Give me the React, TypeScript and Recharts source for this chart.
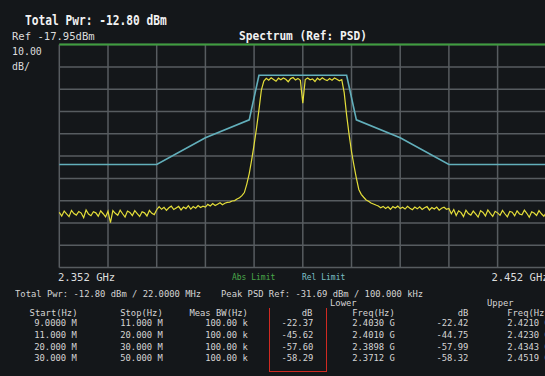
import React from 'react';
import { LineChart, Line, XAxis, YAxis, ReferenceLine } from 'recharts';

// Sweep: 2.352 GHz .. 2.452 GHz, 201 points (0.5 MHz step)
const startGHz = 2.352;
const stepGHz = 0.0005;

// Measured PSD trace, dBm per 100 kHz
const traceDbm = [
  // -50 .. -30.5 MHz
  -93.2, -94.8, -92.6, -93.9, -95.1, -92.3, -93.7, -94.4, -92.8, -93.5,
  -95.6, -92.1, -93.9, -94.7, -92.9, -93.4, -94.9, -92.5, -93.8, -95.2,
  -92.7, -97.8, -92.4, -93.6, -94.5, -92.2, -93.8, -95.3, -92.6, -93.2,
  -94.6, -92.4, -93.7, -95.0, -92.9, -93.4, -94.8, -92.3, -93.6, -94.2,
  // -30 .. -20.5 MHz
  -92.0, -90.6, -91.8, -90.9, -92.3, -91.1, -90.4, -91.9, -91.2, -90.5,
  -92.1, -90.8, -91.5, -90.2, -91.7, -90.6, -91.3, -90.1, -91.0, -90.4,
  // -20 .. -15.5 MHz
  -90.8, -89.6, -90.3, -89.2, -90.1, -89.5, -88.9, -89.8, -89.1, -88.7,
  // -15 .. -8.5 MHz (lower skirt)
  -88.6, -88.1, -87.9, -87.2, -86.6, -85.7, -84.3, -80.5, -75.8, -69.6,
  -62.8, -55.4, -47.1, -38.2,
  // -8 .. +8 MHz (in-channel)
  -34.3, -33.1, -33.9, -32.8, -33.6, -34.4, -33.0, -33.7, -32.9, -33.5,
  -34.6, -33.2, -32.7, -33.8, -33.1, -34.0, -44.2, -33.6, -32.9, -33.7,
  -33.3, -34.5, -33.0, -33.8, -32.8, -33.6, -34.1, -33.2, -33.9, -32.9,
  -33.5, -34.2, -33.7,
  // +8.5 .. +15 MHz (upper skirt)
  -39.5, -49.6, -58.2, -65.9, -72.1, -77.8, -82.9, -85.1, -86.4, -87.6,
  -88.2, -89.0, -89.4, -89.9,
  // +15.5 .. +30 MHz
  -90.3, -91.1, -90.5, -91.4, -90.7, -91.8, -90.6, -91.2, -90.4, -91.5,
  -90.9, -91.7, -90.5, -91.3, -92.0, -90.8, -91.6, -90.7, -91.9, -91.1,
  -90.6, -92.1, -91.0, -91.7, -90.8, -92.2, -91.3, -90.9, -91.8, -91.4,
  // +30.5 .. +50 MHz
  -93.8, -91.9, -94.6, -92.5, -93.3, -95.1, -92.2, -93.7, -94.4, -92.6,
  -93.9, -95.3, -92.4, -93.2, -94.8, -92.1, -93.6, -95.0, -92.7, -93.4,
  -94.5, -92.3, -93.8, -95.2, -92.8, -93.1, -94.7, -92.5, -93.9, -94.3,
  -92.2, -93.6, -95.4, -92.9, -93.5, -94.6, -92.4, -93.8, -94.9, -93.3,
];

// Relative limit mask (breakpoints)
const maskFreqGHz = [2.352, 2.372, 2.382, 2.391, 2.393, 2.411, 2.413, 2.422, 2.432, 2.452];
const maskDbm = [-71.69, -71.69, -59.69, -51.69, -31.69, -31.69, -51.69, -59.69, -71.69, -71.69];

// Absolute limit
const absFreqGHz = [2.352, 2.452];
const absDbm = [-17.95, -17.95];

const xTicks = [2.352, 2.362, 2.372, 2.382, 2.392, 2.402, 2.412, 2.422, 2.432, 2.442, 2.452];
const yTicks = [-117.95, -107.95, -97.95, -87.95, -77.95, -67.95, -57.95, -47.95, -37.95, -27.95, -17.95];

// Results table
const startHz = ['9.0000 M', '11.000 M', '20.000 M', '30.000 M'];
const stopHz = ['11.000 M', '20.000 M', '30.000 M', '50.000 M'];
const measBw = ['100.00 k', '100.00 k', '100.00 k', '100.00 k'];
const lowerDb = ['-22.37', '-45.62', '-57.60', '-58.29'];
const lowerFreq = ['2.4030 G', '2.4010 G', '2.3898 G', '2.3712 G'];
const upperDb = ['-22.42', '-44.75', '-57.99', '-58.32'];
const upperFreq = ['2.4210 G', '2.4230 G', '2.4343 G', '2.4519 G'];

const traceData = traceDbm.map((v, i) => ({ f: startGHz + i * stepGHz, v }));
const maskData = maskFreqGHz.map((f, i) => ({ f, v: maskDbm[i] }));
const absData = absFreqGHz.map((f, i) => ({ f, v: absDbm[i] }));

const MONO = '"DejaVu Sans Mono", monospace';
const GRID = '#575c60';

type TxtProps = {
  x: number;
  y: number;
  size: number;
  sx?: number;
  color?: string;
  bold?: boolean;
  right?: boolean;
  children: React.ReactNode;
};

// x is the left edge (or right edge when right=true), y the vertical centre of the caps
const Txt = ({ x, y, size, sx = 1, color = '#d4d4d4', bold, right, children }: TxtProps) => {
  const lh = Math.round(size * 0.85);
  return (
    <div
      style={{
        position: 'absolute',
        top: y - lh / 2 + size * 0.02,
        ...(right ? { right: 545 - x } : { left: x }),
        fontFamily: MONO,
        fontSize: size,
        lineHeight: `${lh}px`,
        fontWeight: bold ? 'bold' : 'normal',
        color,
        whiteSpace: 'pre',
        transform: `scaleX(${sx})`,
        transformOrigin: right ? 'right top' : 'left top',
      }}
    >
      {children}
    </div>
  );
};

const rowY = [323, 335, 347, 358];
const TS = 9.5;
const TX = 0.93;

const App = () => {
  return (
    <div
      style={{
        position: 'absolute',
        left: 0,
        top: 0,
        width: 545,
        height: 376,
        background: '#14171a',
        overflow: 'hidden',
      }}
    >
      <div style={{ position: 'absolute', left: 0, top: 0 }}>
        <LineChart
          width={560}
          height={300}
          margin={{ top: 44.6, left: 59.3, right: 13.7, bottom: 32.4 }}
        >
          <XAxis
            dataKey="f"
            type="number"
            domain={[2.352, 2.452]}
            ticks={xTicks}
            height={0}
            tick={false}
            axisLine={false}
            tickLine={false}
          />
          <YAxis
            type="number"
            domain={[-117.95, -17.95]}
            ticks={yTicks}
            width={0}
            tick={false}
            axisLine={false}
            tickLine={false}
          />
          {/* 10 MHz / 10 dB graticule */}
          {xTicks.map((t) => (
            <ReferenceLine key={`vx-${t}`} x={t} stroke={GRID} strokeWidth={1.5} ifOverflow="visible" />
          ))}
          {yTicks.map((t) => (
            <ReferenceLine key={`hy-${t}`} y={t} stroke={GRID} strokeWidth={1.5} ifOverflow="visible" />
          ))}
          <Line data={absData} dataKey="v" stroke="#3f9e3f" strokeWidth={2} dot={false} isAnimationActive={false} />
          <Line data={maskData} dataKey="v" stroke="#62afbb" strokeWidth={1.6} dot={false} isAnimationActive={false} />
          <Line data={traceData} dataKey="v" stroke="#e4de3a" strokeWidth={1.2} dot={false} isAnimationActive={false} />
        </LineChart>
      </div>

      <Txt x={25} y={20} size={13.5} sx={0.83} bold color="#f2f2f2">Total Pwr: -12.80 dBm</Txt>
      <Txt x={12} y={36} size={11} sx={0.96} color="#dcdcdc">Ref -17.95dBm</Txt>
      <Txt x={12} y={51} size={11} sx={0.9} color="#dcdcdc">10.00</Txt>
      <Txt x={12} y={66} size={11} sx={0.9} color="#dcdcdc">dB/</Txt>
      <Txt x={239} y={35} size={13} sx={0.86} bold color="#f2f2f2">Spectrum (Ref: PSD)</Txt>

      <Txt x={58} y={277} size={11} sx={0.96} color="#dcdcdc">{`${xTicks[0].toFixed(3)} GHz`}</Txt>
      <Txt x={549} y={277} size={11} sx={0.96} right color="#dcdcdc">{`${xTicks[xTicks.length - 1].toFixed(3)} GHz`}</Txt>
      <Txt x={232} y={277} size={TS} sx={0.84} color="#4aa84a">Abs Limit</Txt>
      <Txt x={302} y={277} size={TS} sx={0.84} color="#7cc0c8">Rel Limit</Txt>

      <Txt x={15} y={294} size={TS} sx={TX}>Total Pwr: -12.80 dBm / 22.0000 MHz</Txt>
      <Txt x={221} y={294} size={TS} sx={TX}>Peak PSD Ref: -31.69 dBm / 100.000 kHz</Txt>

      <Txt x={330} y={302.5} size={TS} sx={TX}>Lower</Txt>
      <Txt x={487} y={302.5} size={TS} sx={TX}>Upper</Txt>

      <Txt x={77} y={312.5} size={TS} sx={TX} right>Start(Hz)</Txt>
      <Txt x={163} y={312.5} size={TS} sx={TX} right>Stop(Hz)</Txt>
      <Txt x={248} y={312.5} size={TS} sx={TX} right>Meas BW(Hz)</Txt>
      <Txt x={312} y={312.5} size={TS} sx={TX} right>dB</Txt>
      <Txt x={395} y={312.5} size={TS} sx={TX} right>Freq(Hz)</Txt>
      <Txt x={468} y={312.5} size={TS} sx={TX} right>dB</Txt>
      <Txt x={550} y={312.5} size={TS} sx={TX} right>Freq(Hz)</Txt>

      {rowY.map((y, i) => (
        <React.Fragment key={i}>
          <Txt x={77} y={y} size={TS} sx={TX} right>{startHz[i]}</Txt>
          <Txt x={163} y={y} size={TS} sx={TX} right>{stopHz[i]}</Txt>
          <Txt x={248} y={y} size={TS} sx={TX} right>{measBw[i]}</Txt>
          <Txt x={313} y={y} size={TS} sx={TX} right>{lowerDb[i]}</Txt>
          <Txt x={395} y={y} size={TS} sx={TX} right>{lowerFreq[i]}</Txt>
          <Txt x={468} y={y} size={TS} sx={TX} right>{upperDb[i]}</Txt>
          <Txt x={550} y={y} size={TS} sx={TX} right>{upperFreq[i]}</Txt>
        </React.Fragment>
      ))}

      {/* highlight box around the lower dB column */}
      <div
        style={{
          position: 'absolute',
          left: 269,
          top: 308,
          width: 56,
          height: 63,
          border: '1.5px solid #d02a22',
          borderTop: 'none',
        }}
      />
    </div>
  );
};

export default App;
